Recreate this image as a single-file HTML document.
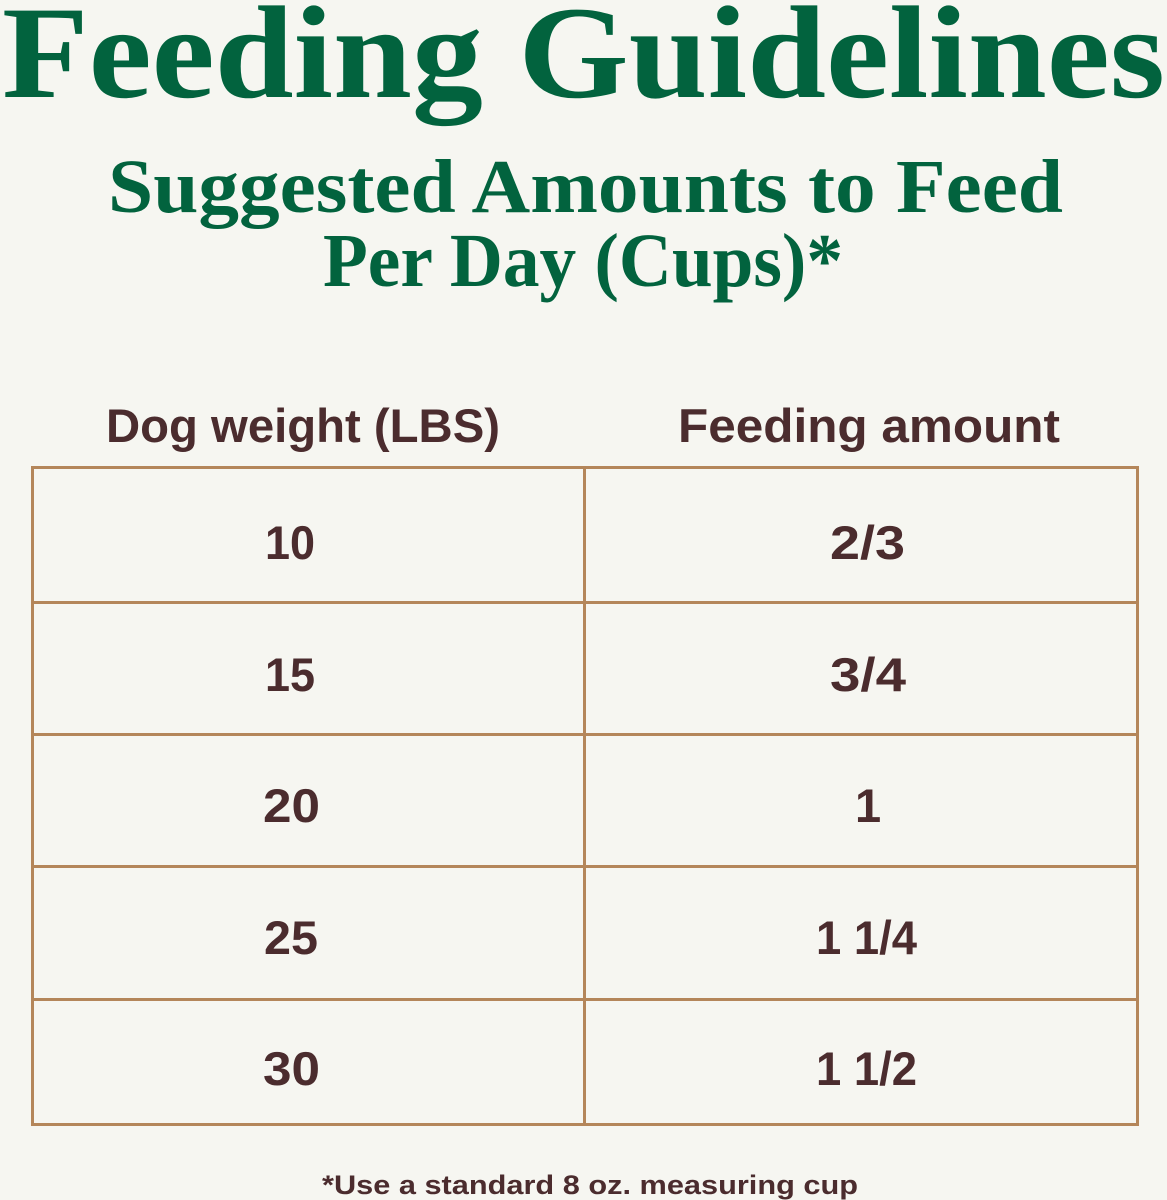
<!DOCTYPE html>
<html>
<head>
<meta charset="utf-8">
<style>
  html,body{margin:0;padding:0;background:#f6f6f1;}
  svg{display:block;}
  .t{font-family:"Liberation Serif",serif;font-weight:bold;fill:#02633e;}
  .s{font-family:"Liberation Sans",sans-serif;font-weight:bold;fill:#4b2c2e;}
</style>
</head>
<body>
<svg width="1167" height="1200" viewBox="0 0 1167 1200" xmlns="http://www.w3.org/2000/svg">
  <rect x="0" y="0" width="1167" height="1200" fill="#f6f6f1"/>
  <text class="t" x="2" y="97" font-size="132" textLength="1163" lengthAdjust="spacingAndGlyphs">Feeding Guidelines</text>
  <text class="t" x="108" y="212" font-size="76" textLength="955" lengthAdjust="spacingAndGlyphs">Suggested Amounts to Feed</text>
  <text class="t" x="323" y="286" font-size="76" textLength="520" lengthAdjust="spacingAndGlyphs">Per Day (Cups)*</text>

  <text class="s" x="106" y="442" font-size="47" textLength="394" lengthAdjust="spacingAndGlyphs">Dog weight (LBS)</text>
  <text class="s" x="678" y="442" font-size="47" textLength="382" lengthAdjust="spacingAndGlyphs">Feeding amount</text>

  <g fill="#b4865a">
    <rect x="31" y="466" width="1108" height="3"/>
    <rect x="31" y="466" width="3" height="660"/>
    <rect x="1136" y="466" width="3" height="660"/>
    <rect x="31" y="1123" width="1108" height="3"/>
    <rect x="31" y="601" width="1108" height="3"/>
    <rect x="31" y="733" width="1108" height="3"/>
    <rect x="31" y="865" width="1108" height="3"/>
    <rect x="31" y="998" width="1108" height="3"/>
    <rect x="583" y="466" width="3" height="660"/>
  </g>

  <g class="s" font-size="47">
    <text x="265" y="559" textLength="50" lengthAdjust="spacingAndGlyphs">10</text>
    <text x="830" y="559" textLength="75" lengthAdjust="spacingAndGlyphs">2/3</text>
    <text x="265" y="691" textLength="50" lengthAdjust="spacingAndGlyphs">15</text>
    <text x="830" y="691" textLength="76" lengthAdjust="spacingAndGlyphs">3/4</text>
    <text x="263" y="822" textLength="57" lengthAdjust="spacingAndGlyphs">20</text>
    <text x="855" y="822">1</text>
    <text x="264" y="954" textLength="54" lengthAdjust="spacingAndGlyphs">25</text>
    <text x="816" y="954" textLength="101" lengthAdjust="spacingAndGlyphs">1 1/4</text>
    <text x="263" y="1085" textLength="57" lengthAdjust="spacingAndGlyphs">30</text>
    <text x="816" y="1085" textLength="101" lengthAdjust="spacingAndGlyphs">1 1/2</text>
  </g>

  <text class="s" x="322" y="1194" font-size="27" textLength="536" lengthAdjust="spacingAndGlyphs">*Use a standard 8 oz. measuring cup</text>
</svg>
</body>
</html>
